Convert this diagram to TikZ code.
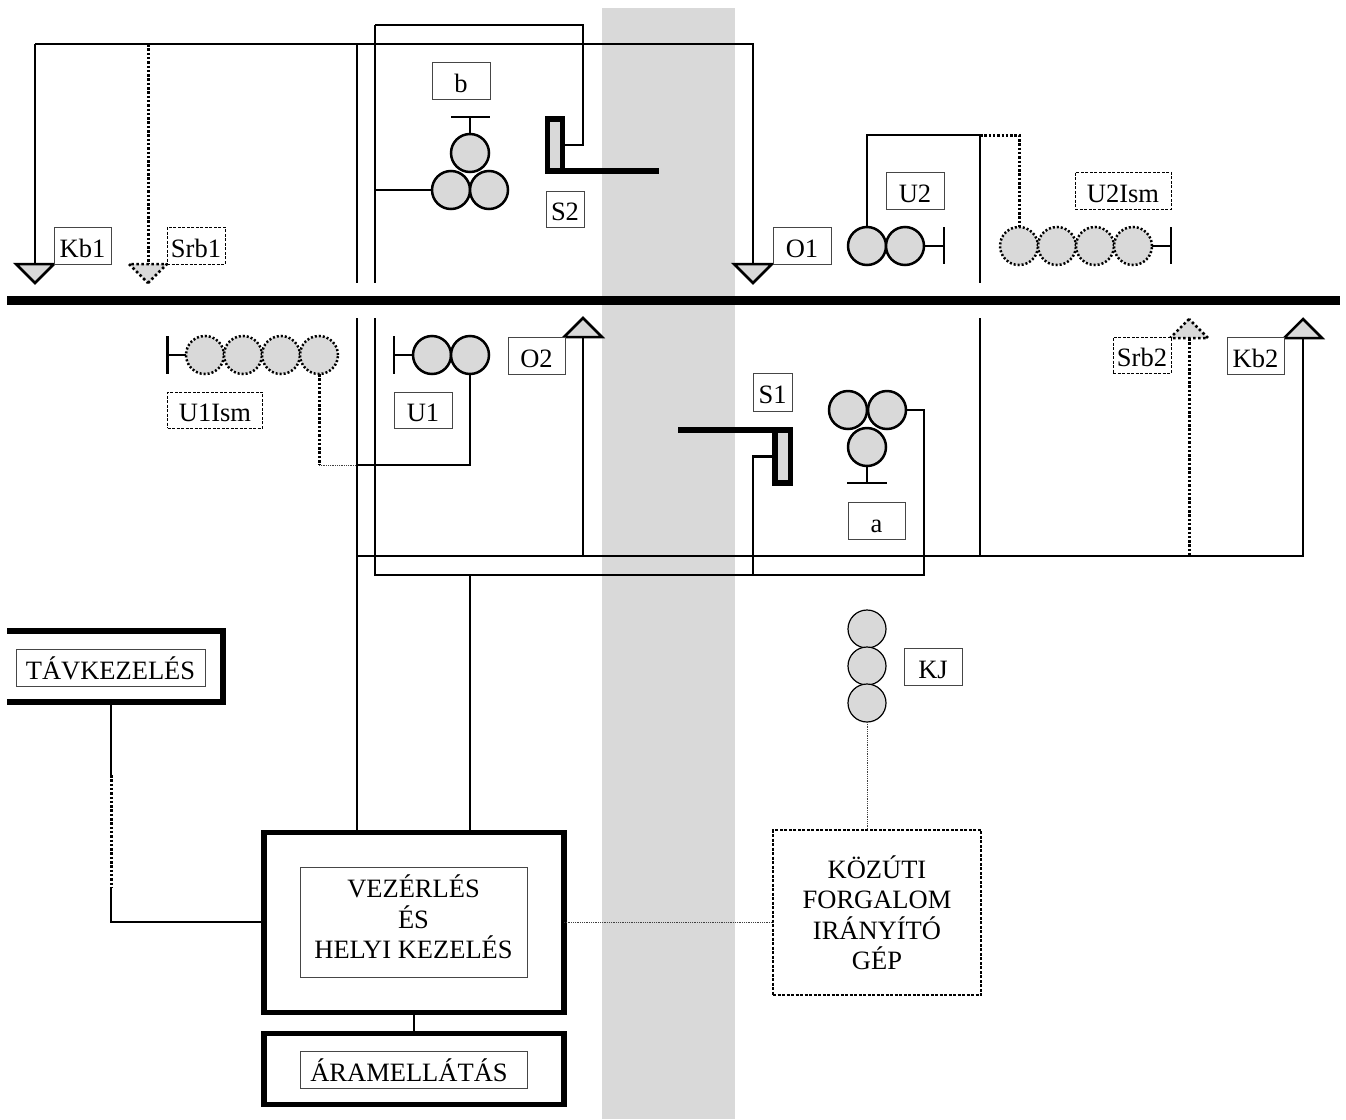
\documentclass[tikz,border=0pt]{standalone}
\usepackage{fontspec}
\setmainfont{Liberation Serif}
\usetikzlibrary{shapes.geometric,positioning}
\definecolor{lampgray}{RGB}{217,217,217}
\definecolor{framegray}{RGB}{70,70,70}

\begin{document}
\begin{tikzpicture}[
    x=1pt, y=-1pt,
    wire/.style={line width=2.5pt},
    dotwire/.style={line width=3pt, dash pattern=on 2.5pt off 1.8pt},
    thinwire/.style={line width=0.8pt, dash pattern=on 1pt off 0.8pt, black!75},
    heavy/.style={line width=5.5pt},
    frame/.style={draw=framegray, line width=1pt, fill=white, inner sep=0pt, outer sep=0pt,
        minimum width=58pt, minimum height=37pt, font=\fontsize{26.5}{30.5}\selectfont, align=center},
    lbl/.style={frame, text height=23pt, text depth=0pt},
    lbldash/.style={lbl, draw=black, dash pattern=on 3pt off 1.5pt},
    lamp/.style={circle, draw, line width=2.5pt, fill=lampgray, minimum size=38pt, inner sep=0pt, outer sep=0pt},
    lampdot/.style={lamp, dash pattern=on 2pt off 2pt},
    lampthin/.style={lamp, line width=1.2pt},
    tri/.style={isosceles triangle, isosceles triangle stretches, draw, line width=2.5pt, fill=lampgray,
        minimum width=38pt, minimum height=19pt, inner sep=0pt, outer sep=0pt},
    tridown/.style={tri, shape border rotate=-90, anchor=apex},
    triup/.style={tri, shape border rotate=90, anchor=apex},
    boxheavy/.style={draw, heavy, fill=white, inner sep=0pt, outer sep=0pt}
]
\useasboundingbox (0,0) rectangle (1346,1119);

% grey band and rail
\fill[lampgray] (602,8) rectangle (735,1119);
\fill (7,295.5) rectangle (1340,304.5);

% corners of the lines
\coordinate (topl) at (35,44);
\coordinate (topm) at (148,44);
\coordinate (topc) at (357,44);
\coordinate (topr) at (753,44);
\coordinate (loopl) at (375,25);
\coordinate (loopr) at (583,25);
\coordinate (cend) at (357,283);
\coordinate (dend) at (375,283);
\coordinate (send) at (659,172);
\coordinate (u2corner) at (867,135);
\coordinate (vtop) at (980,135);
\coordinate (vup) at (980,283);
\coordinate (vlow) at (980,318);
\coordinate (vbot) at (980,556);
\coordinate (cstart) at (357,318);
\coordinate (dstart) at (375,318);
\coordinate (lowl) at (357,556);
\coordinate (lowr) at (1303,556);
\coordinate (lowo) at (583,556);
\coordinate (lows) at (1189,556);
\coordinate (feedl) at (375,575);
\coordinate (feedm) at (470,575);
\coordinate (feeds) at (753,575);
\coordinate (feedr) at (924,575);
\coordinate (u1mid) at (357,465);
\coordinate (u1end) at (319,465);
\coordinate (s1end) at (678,429);

% top half
\node[tridown] (kbone) at (35,283) {};
\node[tridown, dash pattern=on 2.5pt off 2.5pt] (srbone) at (148,283) {};
\node[tridown] (oone) at (753,283) {};
\node[lbl, minimum width=57pt] (kbonel) at (82.5,245.5) {Kb1};
\node[lbldash] (srbonel) at (196,245.5) {Srb1};
\node[lbl] (bl) at (461,80.5) {b};
\node[lbl, minimum width=38pt, minimum height=36pt] (stwol) at (565,209) {S2};
\node[lbl] (oonel) at (802,245.5) {O1};
\node[lbl] (utwol) at (915,190.5) {U2};
\node[lbldash, minimum width=96pt] (utwoisml) at (1123,190.5) {U2Ism};

\node[lamp] (btop) at (470,153) {};
\node[lamp] (bleft) at (451,190) {};
\node[lamp] (bright) at (489,190) {};
\coordinate (bbar) at (470,117);
\draw[wire] (451,117) -- (490,117);
\draw[wire] (bbar) -- (btop.north);
\draw[wire] (bleft.west) -- (bleft.west -| dend);

\node[draw, heavy, fill=lampgray, minimum width=15pt, minimum height=52pt, inner sep=0pt, outer sep=0pt] (stwo) at (555,145) {};
\draw[heavy] (stwo.south east) -- (stwo.south east -| send);

\draw[wire] (topl) -- (topr) -- (oone.lower side);
\draw[wire] (topl) -- (kbone.lower side);
\draw[dotwire] (topm) -- (srbone.lower side);
\draw[wire] (topc) -- (cend);
\draw[wire] (loopl) -- (dend);
\draw[wire] (loopl) -- (loopr) |- (stwo.east);

\foreach \n/\x in {a/867,b/905}
  \node[lamp] (utwo\n) at (\x,246) {};
\draw[wire] (utwob.east) -- (944,246) coordinate (utwoend);
\draw[wire] (944,227) -- (944,264);
\draw[wire] (utwoa.north) -- (u2corner) -- (vtop) -- (vup);

\foreach \n/\x in {a/1019,b/1057,c/1095,d/1133}
  \node[lampdot] (ism\n) at (\x,246) {};
\draw[wire] (ismd.east) -- (1171,246);
\draw[wire] (1171,227) -- (1171,264);
\draw[dotwire] (vtop) -- (1019,135) -- (isma.north);

% bottom half
\node[triup] (otwo) at (583,318) {};
\node[triup, dash pattern=on 2.5pt off 2.5pt] (srbtwo) at (1189,319) {};
\node[triup] (kbtwo) at (1303,319) {};
\node[lbl, minimum width=57pt] (otwol) at (536.5,355.5) {O2};
\node[lbldash, minimum height=36pt] (srbtwol) at (1142,355) {Srb2};
\node[lbl, minimum width=57pt] (kbtwol) at (1255.5,355.5) {Kb2};
\node[lbl, minimum height=36pt] (uonel) at (423,410) {U1};
\node[lbldash, minimum width=95pt, minimum height=36pt] (uoneisml) at (215,410) {U1Ism};
\node[lbl, minimum width=39pt, minimum height=38pt] (sonel) at (772.5,392) {S1};
\node[lbl, minimum width=57pt] (al) at (876.5,520.5) {a};

\foreach \n/\x in {a/205,b/243,c/281,d/319}
  \node[lampdot] (iso\n) at (\x,355) {};
\draw[wire] (isoa.west) -- (167.5,355);
\draw[wire] (167.5,336) -- (167.5,374);
\foreach \n/\x in {a/432,b/470}
  \node[lamp] (uone\n) at (\x,355) {};
\draw[wire] (uonea.west) -- (394,355);
\draw[wire] (394,336) -- (394,374);

\draw[dotwire] (isod.south) -- (u1end);
\draw[thinwire] (u1end) -- (u1mid);
\draw[wire] (uoneb.south) |- (u1mid);

\node[lamp] (atop) at (867,447) {};
\node[lamp] (aleft) at (848,410) {};
\node[lamp] (aright) at (887,410) {};
\draw[wire] (atop.south) -- (867,483);
\draw[wire] (847,483) -- (887,483);

\node[draw, heavy, fill=lampgray, minimum width=15.5pt, minimum height=53pt, inner sep=0pt, outer sep=0pt] (sone) at (782.5,456.5) {};
\draw[heavy] (sone.north east) -- (sone.north east -| s1end);

\draw[wire] (vlow) -- (vbot);
\draw[wire] (otwo.lower side) -- (lowo);
\draw[dotwire] (srbtwo.lower side) -- (lows);
\draw[wire] (lowl) -- (lowr) -- (kbtwo.lower side);
\draw[wire] (dstart) -- (feedl) -- (feedr) |- (aright.east);
\draw[wire] (feeds) |- (sone.west);

% control blocks
\node[boxheavy, minimum width=300pt, minimum height=180pt] (ctrl) at (414,922.5) {};
\node[boxheavy, minimum width=300pt, minimum height=71pt] (power) at (414,1069) {};
\node[frame, minimum width=227pt, minimum height=110pt] (ctrll) at (413.5,922) {VEZÉRLÉS\\ÉS\\HELYI KEZELÉS\rule[-10pt]{0pt}{10pt}};
\node[lbl, minimum width=227pt] (powerl) at (413.5,1069.5) {ÁRAMELLÁTÁS\hspace*{9pt}};
\node[lbl, minimum width=189pt] (tavl) at (110.5,667.5) {TÁVKEZELÉS};
\node[frame, draw=black, dash pattern=on 3pt off 1.5pt, line width=1.3pt, minimum width=208pt, minimum height=165pt] (road) at (877,912.5) {KÖZÚTI\\FORGALOM\\IRÁNYÍTÓ\\GÉP};
\node[lbl] (kjl) at (933,666.5) {KJ};

\draw[heavy] (7,631) -- (223,631) -- (223,702) -- (7,702);
\coordinate (tavfoot) at (111,702);
\coordinate (tavsolid) at (111,775);
\coordinate (tavdots) at (111,887);
\coordinate (tavbend) at (111,922);

\draw[wire] (tavfoot) -- (tavsolid);
\draw[dotwire] (tavsolid) -- (tavdots);
\draw[wire] (tavdots) -- (tavbend) -- (tavbend -| ctrl.west);
\draw[wire] (cstart) -- (cstart |- ctrl.north);
\draw[wire] (feedm) -- (feedm |- ctrl.north);
\draw[wire] (ctrl.south) -- (power.north);
\draw[thinwire] (ctrl.east) -- (ctrl.east -| road.west);

% road signal
\foreach \n/\y in {a/629,b/666,c/703}
  \node[lampthin] (kj\n) at (867,\y) {};
\draw[thinwire] (kjc.south) -- (kjc.south |- road.north);
\end{tikzpicture}
\end{document}
